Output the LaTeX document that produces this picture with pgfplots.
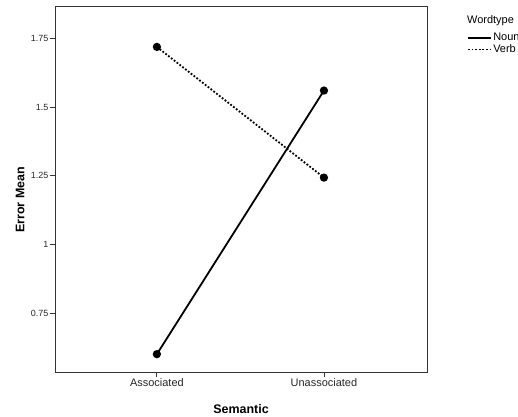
\documentclass[border=0pt]{standalone}
\usepackage{pgfplots}
\pgfplotsset{compat=1.18}
\usepackage{fontspec}
\setmainfont{Liberation Sans}
\begin{document}
\begin{tikzpicture}
\begin{axis}[
  name=ax,
  scale only axis,
  width=372bp, height=366bp,
  xmin=-0.61, xmax=1.617,
  ymin=0.535, ymax=1.868,
  xtick={0,1}, xticklabels={Associated,Unassociated},
  ytick={0.75,1,1.25,1.5,1.75},
  yticklabels={0.75,1,1.25,1.5,1.75},
  tick align=outside, xtick pos=bottom, ytick pos=left,
  major tick length=5bp,
  tick style={black!80, line width=0.8pt},
  axis line style={black!80, line width=0.8pt},
  xticklabel style={font=\fontsize{11}{13}\selectfont, text=black!85, inner sep=1.5pt},
  yticklabel style={font=\fontsize{9}{11}\selectfont, text=black!85, inner sep=1.5pt},
  xlabel={\textbf{Semantic}},
  ylabel={\textbf{Error Mean}},
  label style={font=\fontsize{12.5}{14}\selectfont},
  xlabel style={at={(axis description cs:0.5,-0.101)}, anchor=center},
  ylabel style={at={(axis description cs:-0.094,0.47)}, anchor=center},
  legend style={at={(1,1)}, anchor=north west, xshift=40bp, yshift=-27bp, draw=none, fill=none,
    font=\fontsize{11}{12}\selectfont, row sep=1bp, inner sep=0pt,
    nodes={inner ysep=0.8pt, inner xsep=1.5pt, text height=7bp, text depth=1.5bp}},
  legend cell align=left,
  legend image code/.code={\draw[#1, line width=1.6pt] (0bp,0bp) -- (23bp,0bp);},
]
\addplot[black, line width=1.8pt, mark=*, mark size=3.2pt, mark options={solid}] coordinates {(0,0.60) (1,1.56)};
\addlegendentry{Noun}
\addplot[black, line width=1.8pt, dash pattern=on 1.8pt off 1.8pt, mark=*, mark size=3.2pt, mark options={solid}] coordinates {(0,1.719) (1,1.243)};
\addlegendentry{Verb}
\end{axis}
\node[anchor=west, font=\fontsize{11}{13}\selectfont, inner sep=0pt] at ([xshift=40bp,yshift=-15bp]ax.north east) {Wordtype};
\pgfresetboundingbox
\path[use as bounding box] ([xshift=-55bp,yshift=-45bp]ax.south west) rectangle ([xshift=91bp,yshift=6bp]ax.north east);
\end{tikzpicture}
\end{document}
